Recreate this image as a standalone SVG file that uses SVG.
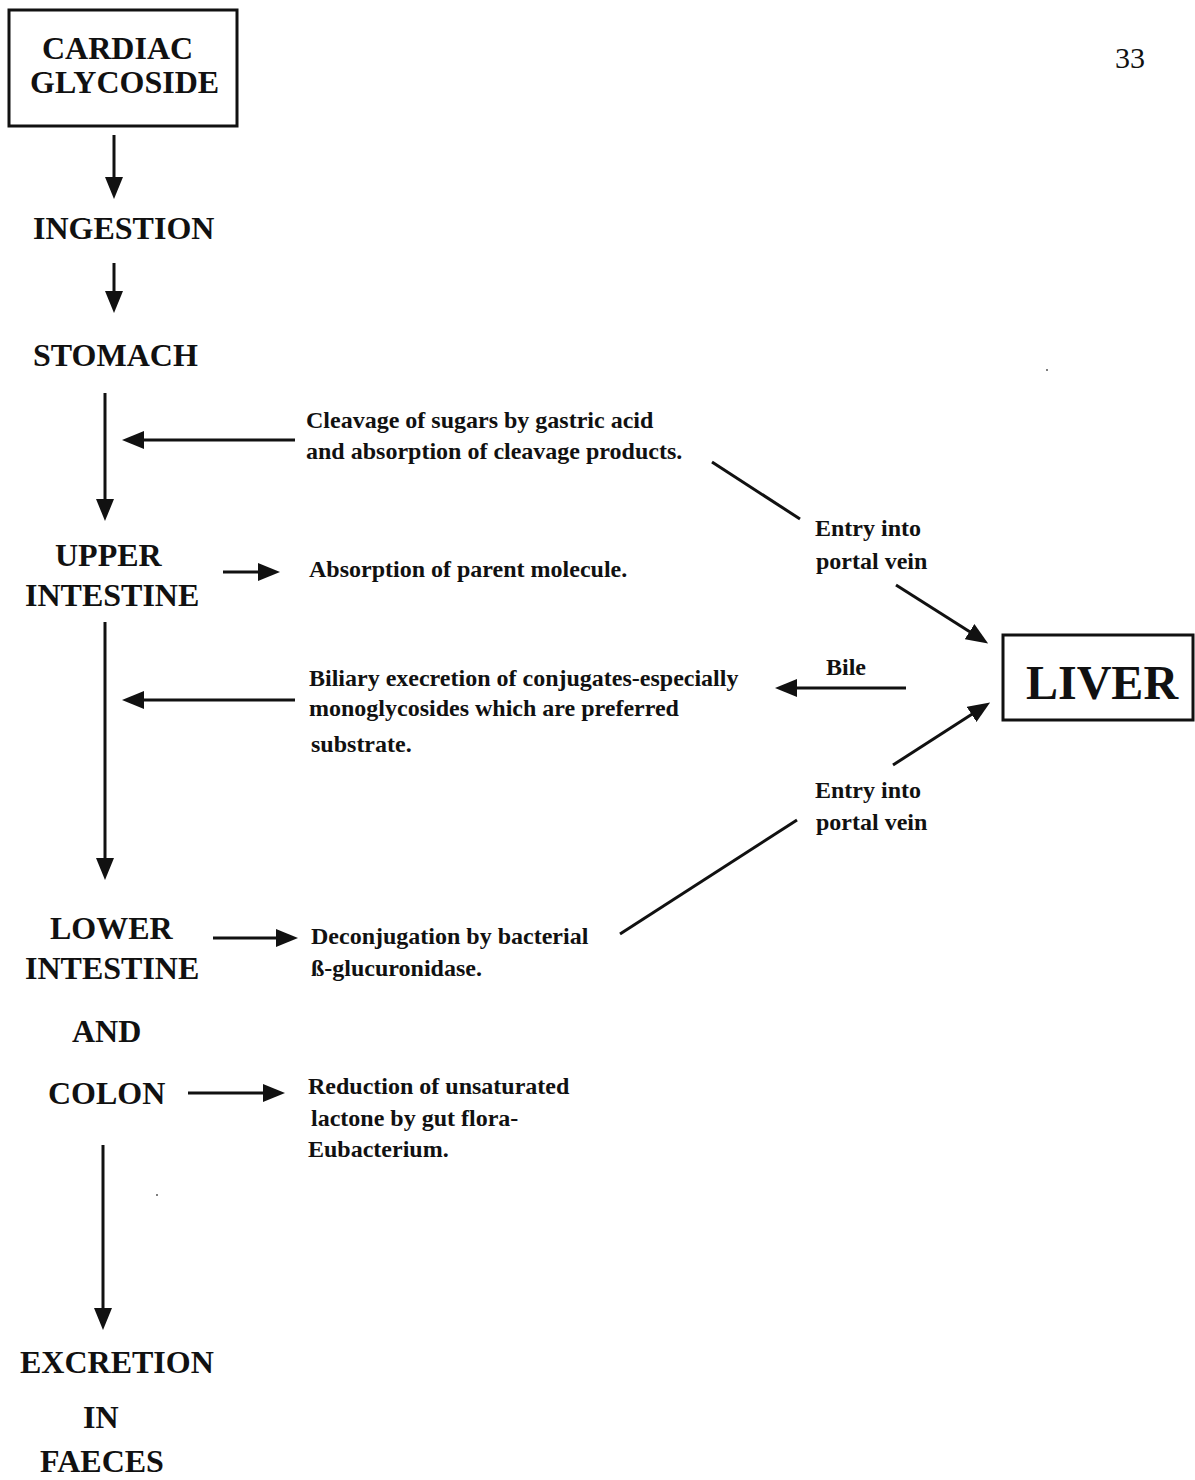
<svg xmlns="http://www.w3.org/2000/svg" width="1195" height="1480" viewBox="0 0 1195 1480">
<style>
.lbl{font-family:"Liberation Serif","Times New Roman",serif;font-weight:bold;font-size:32px;fill:#111}
.txt{font-family:"Liberation Serif","Times New Roman",serif;font-weight:bold;font-size:24px;fill:#111}
.box{fill:#fff;stroke:#111;stroke-width:3}
.ln{stroke:#111;stroke-width:3;fill:none}
.arr{stroke:#111;stroke-width:3;fill:none;marker-end:url(#ah)}
</style>
<defs>
<marker id="ah" viewBox="0 0 22 18" refX="10" refY="9" markerWidth="22" markerHeight="18" markerUnits="userSpaceOnUse" orient="auto">
<path d="M0,0 L22,9 L0,18 z" fill="#111"/>
</marker>
</defs>
<rect width="1195" height="1480" fill="#fff"/>
<text x="1115" y="68" style="font-family:'Liberation Serif','Times New Roman',serif;font-size:30px;fill:#111">33</text>
<g id="cardiac">
<rect class="box" x="9" y="10" width="228" height="116"/>
<text class="lbl" x="42" y="59">CARDIAC</text>
<text class="lbl" x="30" y="93">GLYCOSIDE</text>
</g>
<g id="ingestion"><text class="lbl" x="33" y="239">INGESTION</text></g>
<g id="stomach"><text class="lbl" x="33" y="366">STOMACH</text></g>
<g id="upper"><text class="lbl" x="55" y="566">UPPER</text><text class="lbl" x="25" y="606">INTESTINE</text></g>
<g id="lower"><text class="lbl" x="50" y="939">LOWER</text><text class="lbl" x="25" y="979">INTESTINE</text><text class="lbl" x="72" y="1042">AND</text><text class="lbl" x="48" y="1104">COLON</text></g>
<g id="excretion"><text class="lbl" x="20" y="1373">EXCRETION</text><text class="lbl" x="83" y="1428">IN</text><text class="lbl" x="40" y="1472">FAECES</text></g>
<g id="liver">
<rect class="box" x="1003" y="635" width="190" height="85"/>
<text x="1026" y="699" style="font-family:'Liberation Serif','Times New Roman',serif;font-weight:bold;font-size:48px;fill:#111">LIVER</text>
</g>
<g id="note-cleavage"><text class="txt" x="306" y="428">Cleavage of sugars by gastric acid</text><text class="txt" x="306" y="459">and absorption of cleavage products.</text></g>
<g id="note-portal1"><text class="txt" x="815" y="536">Entry into</text><text class="txt" x="816" y="569">portal vein</text></g>
<g id="note-absorption"><text class="txt" x="309" y="577">Absorption of parent molecule.</text></g>
<g id="note-bile"><text class="txt" x="826" y="675">Bile</text></g>
<g id="note-biliary"><text class="txt" x="309" y="686">Biliary execretion of conjugates-especially</text><text class="txt" x="309" y="716">monoglycosides which are preferred</text><text class="txt" x="311" y="752">substrate.</text></g>
<g id="note-portal2"><text class="txt" x="815" y="798">Entry into</text><text class="txt" x="816" y="830">portal vein</text></g>
<g id="note-deconj"><text class="txt" x="311" y="944">Deconjugation by bacterial</text><text class="txt" x="311" y="976">ß-glucuronidase.</text></g>
<g id="note-reduction"><text class="txt" x="308" y="1094">Reduction of unsaturated</text><text class="txt" x="311" y="1126">lactone by gut flora-</text><text class="txt" x="308" y="1157">Eubacterium.</text></g>
<g id="connectors">
<line class="arr" x1="114" y1="135" x2="114" y2="187"/>
<line class="arr" x1="114" y1="263" x2="114" y2="301"/>
<line class="arr" x1="105" y1="393" x2="105" y2="509"/>
<line class="arr" x1="105" y1="622" x2="105" y2="868"/>
<line class="arr" x1="103" y1="1145" x2="103" y2="1318"/>
<line class="arr" x1="295" y1="440" x2="134" y2="440"/>
<line class="arr" x1="295" y1="700" x2="134" y2="700"/>
<line class="arr" x1="223" y1="572" x2="268" y2="572"/>
<line class="arr" x1="213" y1="938" x2="286" y2="938"/>
<line class="arr" x1="188" y1="1093" x2="273" y2="1093"/>
<line class="arr" x1="906" y1="688" x2="787" y2="688"/>
<line class="ln" x1="712" y1="462" x2="800" y2="519"/>
<line class="arr" x1="896" y1="585" x2="978" y2="637"/>
<line class="arr" x1="893" y1="765" x2="980" y2="709"/>
<line class="ln" x1="620" y1="934" x2="797" y2="820"/>
</g>
<g id="specks" fill="#555"><circle cx="1047" cy="370" r="1"/><circle cx="157" cy="1195" r="1"/></g>
</svg>
